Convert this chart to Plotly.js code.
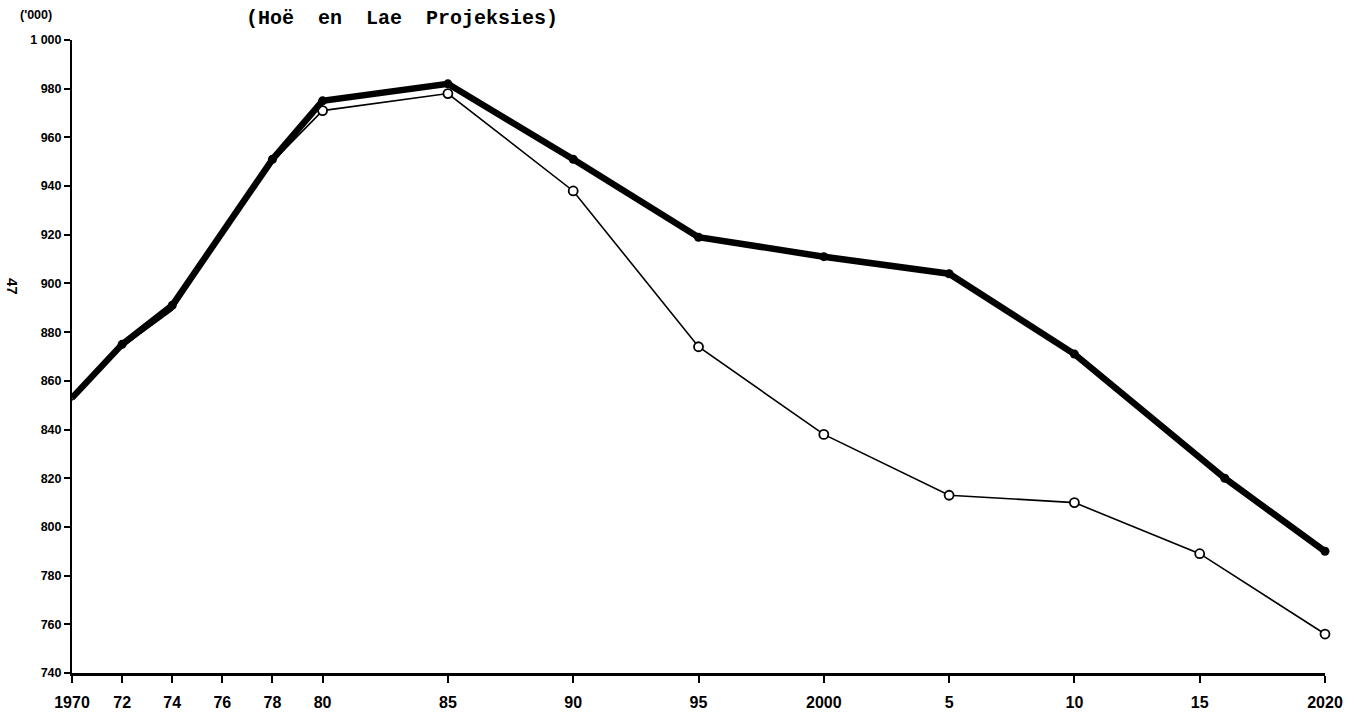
<!DOCTYPE html>
<html>
<head>
<meta charset="utf-8">
<script src="https://cdn.plot.ly/plotly-3.0.1.min.js"></script>
<style>
  html, body { margin: 0; padding: 0; background: #fff; }
  #chart { width: 1357px; height: 717px; }
</style>
</head>
<body>
<div id="chart"></div>
<script>
// High projection (thick line, filled dots)
const highYears  = [1970, 1972, 1974, 1976, 1978, 1980, 1985, 1990, 1995, 2000, 2005, 2010, 2016, 2020];
const highValues = [853, 875, 891, 921, 951, 975, 982, 951, 919, 911, 904, 871, 820, 790];
const highMarkerYears  = [1972, 1974, 1978, 1980, 1985, 1990, 1995, 2000, 2005, 2010, 2016, 2020];
const highMarkerValues = [875, 891, 951, 975, 982, 951, 919, 911, 904, 871, 820, 790];

// Low projection (thin line, open circles)
const lowYears  = [1970, 1972, 1974, 1976, 1978, 1980, 1985, 1990, 1995, 2000, 2005, 2010, 2015, 2020];
const lowValues = [852, 874, 889, 920, 950, 971, 978, 938, 874, 838, 813, 810, 789, 756];
const lowMarkerYears  = [1980, 1985, 1990, 1995, 2000, 2005, 2010, 2015, 2020];
const lowMarkerValues = [971, 978, 938, 874, 838, 813, 810, 789, 756];

// Axis ticks
const xTickVals = [1970, 1972, 1974, 1976, 1978, 1980, 1985, 1990, 1995, 2000, 2005, 2010, 2015, 2020];
const xTickText = ['1970', '72', '74', '76', '78', '80', '85', '90', '95', '2000', '5', '10', '15', '2020'];
const yTickVals = [740, 760, 780, 800, 820, 840, 860, 880, 900, 920, 940, 960, 980, 1000];
const yTickText = ['740', '760', '780', '800', '820', '840', '860', '880', '900', '920', '940', '960', '980', '1 000'];

const titleText = '(Hoë  en  Lae  Projeksies)';
const unitText = "('000)";
const pageText = '47';

const traces = [
  {
    x: lowYears, y: lowValues, type: 'scatter', mode: 'lines',
    line: { color: '#000', width: 1.6 }, hoverinfo: 'skip', showlegend: false
  },
  {
    x: lowMarkerYears, y: lowMarkerValues, type: 'scatter', mode: 'markers',
    marker: { symbol: 'circle', size: 9, color: '#fff', line: { color: '#000', width: 1.8 } },
    showlegend: false, cliponaxis: false
  },
  {
    x: highYears, y: highValues, type: 'scatter', mode: 'lines',
    line: { color: '#000', width: 6.5 }, hoverinfo: 'skip', showlegend: false
  },
  {
    x: highMarkerYears, y: highMarkerValues, type: 'scatter', mode: 'markers',
    marker: { symbol: 'circle', size: 9, color: '#000' },
    showlegend: false, cliponaxis: false
  }
];

const layout = {
  width: 1357, height: 717,
  paper_bgcolor: '#fff', plot_bgcolor: '#fff',
  margin: { l: 72, r: 32, t: 40, b: 44 },
  showlegend: false,
  title: {
    text: '<b>' + titleText + '</b>',
    font: { family: 'Liberation Mono, DejaVu Sans Mono, monospace', size: 20, color: '#000' },
    xref: 'container', yref: 'container', x: 246 / 1357, xanchor: 'left',
    y: 1 - 17 / 717, yanchor: 'middle'
  },
  xaxis: {
    range: [1970, 2020], showgrid: false, zeroline: false,
    showline: true, linecolor: '#000', linewidth: 2.5,
    ticks: 'outside', ticklen: 7, tickwidth: 2, tickcolor: '#000',
    ticklabelstandoff: 6,
    tickvals: xTickVals, ticktext: xTickText,
    tickfont: { family: 'Liberation Sans Narrow, Liberation Sans, Arial, sans-serif', size: 16, color: '#000', weight: 'bold' },
    fixedrange: true
  },
  yaxis: {
    range: [740, 1000], showgrid: false, zeroline: false,
    showline: true, linecolor: '#000', linewidth: 2,
    ticks: 'outside', ticklen: 6, tickwidth: 2, tickcolor: '#000',
    tickvals: yTickVals, ticktext: yTickText,
    tickfont: { family: 'Liberation Sans, Arial, sans-serif', size: 12.5, color: '#000', weight: 'bold' },
    fixedrange: true
  },
  annotations: [
    {
      text: '<b>' + unitText + '</b>', xref: 'paper', yref: 'paper',
      x: -0.029, y: 1.04, xanchor: 'center', yanchor: 'middle', showarrow: false,
      font: { family: 'Liberation Sans, Arial, sans-serif', size: 12.5, color: '#000' }
    },
    {
      text: '<b>' + pageText + '</b>', xref: 'paper', yref: 'paper',
      x: -0.048, y: 0.61, xanchor: 'center', yanchor: 'middle', showarrow: false,
      textangle: 90,
      font: { family: 'Liberation Sans, Arial, sans-serif', size: 15, color: '#000' }
    }
  ]
};

Plotly.newPlot('chart', traces, layout, { displayModeBar: false, staticPlot: true });
</script>
</body>
</html>
